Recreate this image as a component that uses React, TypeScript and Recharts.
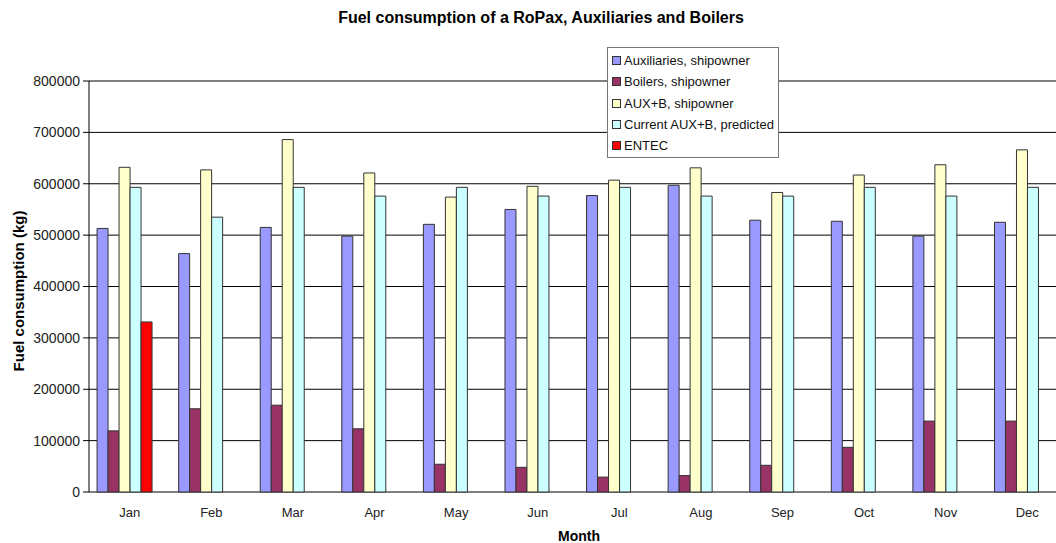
import React from 'react';
import { BarChart, Bar, XAxis, YAxis, CartesianGrid } from 'recharts';

const months = ['Jan', 'Feb', 'Mar', 'Apr', 'May', 'Jun', 'Jul', 'Aug', 'Sep', 'Oct', 'Nov', 'Dec'];
const auxiliaries = [513000, 464000, 515000, 498000, 521000, 550000, 577000, 597000, 529000, 527000, 498000, 525000];
const boilers = [119000, 162000, 169000, 123000, 54000, 48000, 29000, 32000, 52000, 87000, 138000, 138000];
const auxB = [632000, 627000, 686000, 621000, 574000, 595000, 607000, 631000, 583000, 617000, 637000, 666000];
const predicted = [593000, 535000, 593000, 576000, 593000, 576000, 593000, 576000, 576000, 593000, 576000, 593000];
const entec = [331000, null, null, null, null, null, null, null, null, null, null, null];
const yTicks = [0, 100000, 200000, 300000, 400000, 500000, 600000, 700000, 800000];
const boundaryTicks = [0, 1, 2, 3, 4, 5, 6, 7, 8, 9, 10, 11, 12];

const SERIES = [
  { key: 'aux', name: 'Auxiliaries, shipowner', color: '#9999FF' },
  { key: 'boil', name: 'Boilers, shipowner', color: '#993366' },
  { key: 'auxb', name: 'AUX+B, shipowner', color: '#FFFFCC' },
  { key: 'pred', name: 'Current AUX+B, predicted', color: '#CCFFFF' },
  { key: 'entec', name: 'ENTEC', color: '#FF0000' },
];

const data = months.map((m, i) => ({
  month: m,
  aux: auxiliaries[i],
  boil: boilers[i],
  auxb: auxB[i],
  pred: predicted[i],
  entec: entec[i],
}));

const FONT = '"Liberation Sans", Arial, sans-serif';
const yTickStyle = { fontSize: 14, fill: '#222', fontFamily: FONT };
const xTickStyle = { fontSize: 13, fill: '#222', fontFamily: FONT, dx: 5 };

export default function App() {
  return (
    <div style={{ position: 'absolute', left: 0, top: 0, width: 1056, height: 543, overflow: 'hidden', background: '#fff', fontFamily: FONT }}>
      <div style={{ position: 'absolute', left: 0, top: 9, width: 1082, textAlign: 'center', fontWeight: 'bold', fontSize: 16, color: '#000' }}>
        Fuel consumption of a RoPax, Auxiliaries and Boilers
      </div>
      <div style={{ position: 'absolute', left: 18, top: 291, transform: 'translate(-50%, -50%) rotate(-90deg)', whiteSpace: 'nowrap', fontWeight: 'bold', fontSize: 15, color: '#000' }}>
        Fuel consumption (kg)
      </div>
      <div style={{ position: 'absolute', left: 579, top: 528, transform: 'translateX(-50%)', fontWeight: 'bold', fontSize: 14, color: '#000' }}>
        Month
      </div>

      <BarChart width={1068} height={543} data={data} margin={{ top: 81, right: 0, bottom: 0, left: 0 }}
        barCategoryGap="16%" barGap={0}>
        <CartesianGrid horizontal vertical={false} stroke="#000" strokeWidth={1} />
        <XAxis xAxisId="bounds" type="number" domain={[0, 12]} ticks={boundaryTicks} height={0}
          stroke="#000" tickSize={5} tickFormatter={() => ''} allowDataOverflow />
        <XAxis dataKey="month" height={51} axisLine={false} tickLine={false} tick={xTickStyle}
          tickMargin={10} padding={{ left: -5, right: 5 }} interval={0} />
        <YAxis width={89} domain={[0, 800000]} ticks={yTicks} stroke="#000" tickSize={6} tickMargin={3}
          tick={yTickStyle} interval={0} />
        {SERIES.map(s => (
          <Bar key={s.key} dataKey={s.key} name={s.name} fill={s.color} stroke="#333" strokeWidth={1}
            isAnimationActive={false} />
        ))}
      </BarChart>

      <div style={{ position: 'absolute', left: 607, top: 47, width: 170, height: 109, background: '#fff', border: '1px solid #777', fontSize: 13, color: '#111' }}>
        {SERIES.map((s, i) => (
          <div key={s.key} style={{ position: 'absolute', left: 4, top: 5 + i * 21.3, display: 'flex', alignItems: 'center', whiteSpace: 'nowrap', lineHeight: '15px' }}>
            <span style={{ display: 'inline-block', width: 7, height: 7, background: s.color, border: '1px solid #333', marginRight: 3 }} />
            {s.name}
          </div>
        ))}
      </div>
    </div>
  );
}
